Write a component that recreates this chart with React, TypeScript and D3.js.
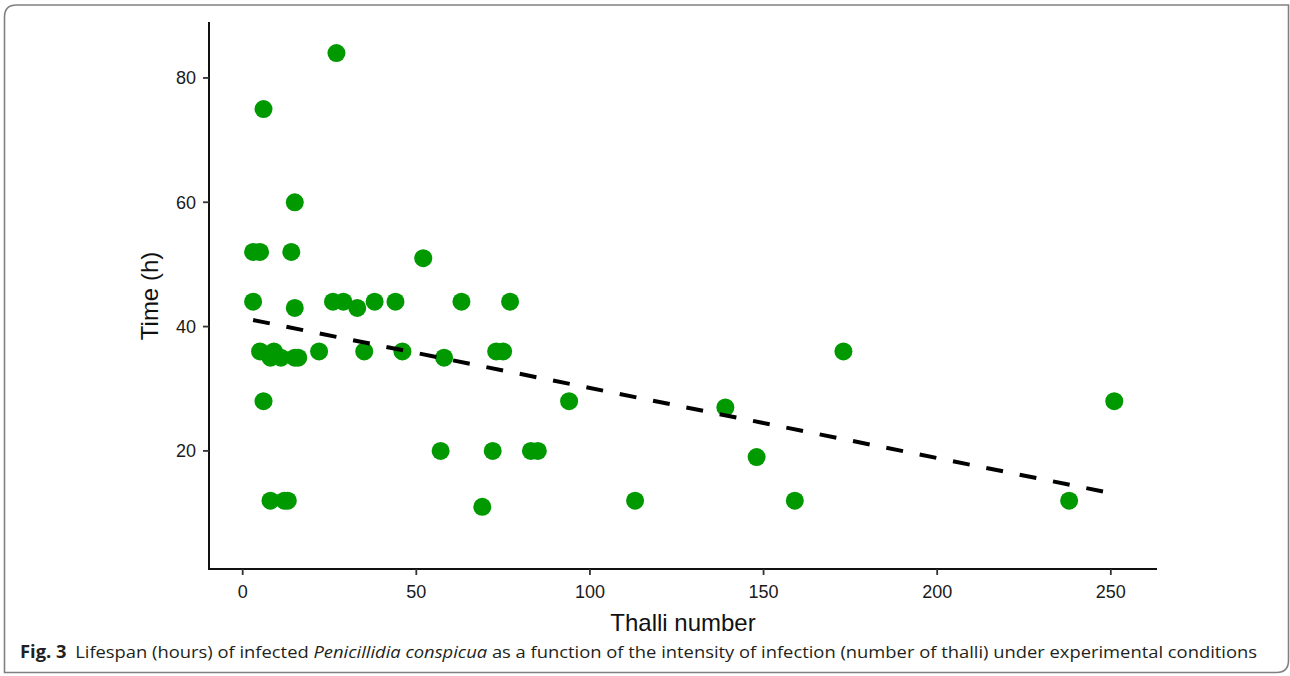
import React from 'react';
import * as d3 from 'd3';

// thalli count per individual and lifespan in hours
const thalli = [
  3, 5, 14, 3, 15, 26, 29, 33, 38, 44, 63, 77, 52, 27, 6, 15,
  5, 9, 8, 11, 15, 16, 22, 35, 46, 58, 73, 75, 6, 57, 72, 83,
  85, 94, 69, 8, 12, 13, 113, 139, 148, 159, 173, 238, 251
];
const hours = [
  52, 52, 52, 44, 43, 44, 44, 43, 44, 44, 44, 44, 51, 84, 75, 60,
  36, 36, 35, 35, 35, 35, 36, 36, 36, 35, 36, 36, 28, 20, 20, 20,
  20, 28, 11, 12, 12, 12, 12, 27, 19, 12, 36, 12, 28
];
const xTicks = [0, 50, 100, 150, 200, 250];
const yTicks = [20, 40, 60, 80];

const W = 1290;
const H = 676;

export default function App() {
  const x = d3.scaleLinear().domain([-9.7, 263.3]).range([209, 1157]);
  const y = d3.scaleLinear().domain([1, 89]).range([569, 22]);

  // least squares fit (the dashed line)
  const mx = d3.mean(thalli) as number;
  const my = d3.mean(hours) as number;
  const sxy = d3.sum(thalli, (v, i) => (v - mx) * (hours[i] - my));
  const sxx = d3.sum(thalli, v => (v - mx) * (v - mx));
  const slope = sxy / sxx;
  const icpt = my - slope * mx;
  const ext = d3.extent(thalli) as [number, number];
  const fit = d3.line<number>().x(d => x(d)).y(d => y(icpt + slope * d));

  const font = 'Liberation Sans, Arial, sans-serif';

  // frame: rounded top-left and bottom-right corners
  const r = 12;
  const fx0 = 4.5, fy0 = 5, fx1 = 1288.5, fy1 = 672.5;
  const frame = `M${fx0},${fy0 + r} Q${fx0},${fy0} ${fx0 + r},${fy0} L${fx1},${fy0} L${fx1},${fy1 - r} Q${fx1},${fy1} ${fx1 - r},${fy1} L${fx0},${fy1} Z`;

  return (
    <svg width={W} height={H} style={{ position: 'absolute', left: 0, top: 0, background: '#fff' }}>
      <path d={frame} fill="none" stroke="#808080" strokeWidth={1.6} />

      {/* axes */}
      <line x1={209} x2={209} y1={22} y2={570} stroke="#111" strokeWidth={2} />
      <line x1={208} x2={1157} y1={569} y2={569} stroke="#111" strokeWidth={2} />

      {yTicks.map(t => (
        <g key={'y' + t}>
          <line x1={203} x2={209} y1={y(t)} y2={y(t)} stroke="#333" strokeWidth={1.8} />
          <text x={196} y={y(t)} dy="0.36em" textAnchor="end" fontFamily={font} fontSize={18} fill="#1a1a1a">{t}</text>
        </g>
      ))}
      {xTicks.map(t => (
        <g key={'x' + t}>
          <line x1={x(t)} x2={x(t)} y1={569} y2={575} stroke="#333" strokeWidth={1.8} />
          <text x={x(t)} y={598} textAnchor="middle" fontFamily={font} fontSize={18} fill="#1a1a1a">{t}</text>
        </g>
      ))}

      <text x={683} y={631} textAnchor="middle" fontFamily={font} fontSize={24} fill="#111">Thalli number</text>
      <text transform="translate(158,296) rotate(-90)" textAnchor="middle" fontFamily={font} fontSize={24} fill="#111">Time (h)</text>

      {/* points */}
      {thalli.map((v, i) => (
        <circle key={i} cx={x(v)} cy={y(hours[i])} r={9} fill="#009900" />
      ))}

      <path d={fit(ext) as string} fill="none" stroke="#000" strokeWidth={4} strokeDasharray="17 17" />

      <text x={20} y={658} fontFamily="Open Sans, Noto Sans, sans-serif" fontSize={17} fill="#231f20" textLength={1237} lengthAdjust="spacingAndGlyphs">
        <tspan fontWeight="bold">Fig. 3</tspan>
        <tspan dx={8}>Lifespan (hours) of infected </tspan>
        <tspan fontStyle="italic">Penicillidia conspicua</tspan>
        <tspan> as a function of the intensity of infection (number of thalli) under experimental conditions</tspan>
      </text>
    </svg>
  );
}
